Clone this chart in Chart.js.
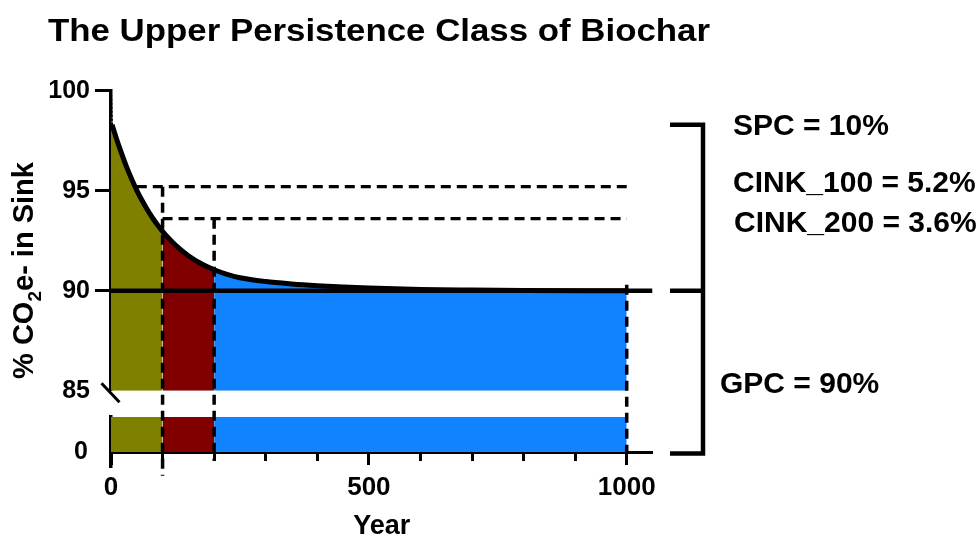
<!DOCTYPE html>
<html>
<head>
<meta charset="utf-8">
<script src="https://cdn.jsdelivr.net/npm/chart.js@4.4.1/dist/chart.umd.min.js"></script>
<style>
html,body{margin:0;padding:0;background:#fff;}
#wrap{position:relative;width:980px;height:539px;}
</style>
</head>
<body>
<div id="wrap"><canvas id="c"></canvas></div>
<script>
const FONT = '"Liberation Sans", Arial, Helvetica, sans-serif';

// ---- data ----
const titleText = 'The Upper Persistence Class of Biochar';
const initialDrop = [[0, 100], [2, 98.3]];
const curveYears  = [2, 10, 20, 30, 40, 50, 60, 70, 80, 90, 100, 110, 125, 150, 175, 200, 225, 250, 300, 350, 400, 450, 500, 600, 700, 800, 1000];
const curveValues = [98.3, 97.65, 96.9, 96.2, 95.58, 95.02, 94.52, 94.07, 93.66, 93.3, 92.97, 92.67, 92.28, 91.75, 91.35, 91.05, 90.82, 90.65, 90.46, 90.34, 90.25, 90.18, 90.13, 90.06, 90.03, 90.01, 90.0];
const phaseBounds = [0, 100, 200, 1000];
const phaseColors = ['#808000', '#800000', '#1183FF'];
const gpcLevel = 90;
const cinkYears = [100, 200];
const cinkLevels = [95.2, 93.6];
const cinkStartYears = [50, 100];
const horizonYear = 1000;
const dropLineEnds = [80.75, 81.5, 81.9];   // lower ends of the dashed drop lines (x=100, 200, 1000)
const horizonTop = 90.3;
const bottomBandTop = 7;
const xMax = 1050;
const xTicksMajor = [0, 500, 1000];
const yTicksTop = [85, 90, 95, 100];
const yTicksBottom = [0];
const sideLabels = ['SPC = 10%', 'CINK_100 = 5.2%', 'CINK_200 = 3.6%', 'GPC = 90%'];
const bracketLevels = [98.3, 90];   // top & middle of bracket on the upper axis
const bracketBottom = -0.3;          // bottom of bracket on the lower axis

// ---- datasets ----
const curvePts = curveYears.map((x, i) => ({x, y: curveValues[i]}));
const fillPts = [{x: 0, y: initialDrop[0][1] - 1.2}].concat(curvePts);
const datasets = [];

datasets.push({
  label: 'curve', data: curvePts, xAxisID: 'x', yAxisID: 'y',
  borderColor: '#000', borderWidth: 5, pointRadius: 0, fill: false,
  cubicInterpolationMode: 'monotone', order: 0
});
datasets.push({
  label: 'drop0', data: initialDrop.map(p => ({x: p[0], y: p[1]})), xAxisID: 'x', yAxisID: 'y',
  borderColor: '#000', borderWidth: 2, borderDash: [2, 2], pointRadius: 0, fill: false, order: 0
});
datasets.push({
  label: 'gpc', data: [{x: 0, y: gpcLevel}, {x: xMax, y: gpcLevel}], xAxisID: 'x', yAxisID: 'y',
  borderColor: '#000', borderWidth: 4.5, pointRadius: 0, fill: false, order: 1
});
// dashed horizontal lines
cinkLevels.forEach((lv, i) => {
  datasets.push({
    label: 'cinkH' + i, data: [{x: cinkStartYears[i], y: lv}, {x: horizonYear, y: lv}],
    xAxisID: 'x', yAxisID: 'y', borderColor: '#000', borderWidth: 3.2, borderDash: [10, 6],
    pointRadius: 0, fill: false, clip: false, order: 2
  });
});
// dashed vertical drop lines
const dropTops = [cinkLevels[0], cinkLevels[1], horizonTop];
const dropYears = [cinkYears[0], cinkYears[1], horizonYear];
dropYears.forEach((yr, i) => {
  datasets.push({
    label: 'drop' + i, data: [{x: yr, y: dropTops[i]}, {x: yr, y: dropLineEnds[i]}],
    xAxisID: 'x', yAxisID: 'y', borderColor: '#000', borderWidth: 3.5, borderDash: [10, 6],
    pointRadius: 0, fill: false, clip: false, order: 2
  });
});
// phase fills (upper and lower segment)
for (let i = 0; i < phaseColors.length; i++) {
  const a = phaseBounds[i], b = phaseBounds[i + 1];
  datasets.push({
    label: 'fillTop' + i, data: fillPts.filter(p => p.x >= a && p.x <= b),
    xAxisID: 'x', yAxisID: 'y', borderWidth: 0, borderColor: 'rgba(0,0,0,0)',
    backgroundColor: phaseColors[i], fill: 'start', pointRadius: 0,
    cubicInterpolationMode: 'monotone', order: 5
  });
  datasets.push({
    label: 'fillBot' + i, data: [{x: a, y: bottomBandTop}, {x: b, y: bottomBandTop}],
    xAxisID: 'x', yAxisID: 'yb', borderWidth: 0, borderColor: 'rgba(0,0,0,0)',
    backgroundColor: phaseColors[i], fill: 'origin', pointRadius: 0, order: 5
  });
}

const tickFont = {family: FONT, size: 25, weight: 'bold'};
const xTickFont = {family: FONT, size: 26, weight: 'bold'};

const annot = {
  id: 'annot',
  afterDraw(chart) {
    const ctx = chart.ctx;
    const y = chart.scales.y, yb = chart.scales.yb, x = chart.scales.x;
    ctx.save();
    ctx.fillStyle = '#000';
    ctx.strokeStyle = '#000';
    // title
    ctx.font = 'bold 32px ' + FONT;
    ctx.textAlign = 'left';
    ctx.textBaseline = 'alphabetic';
    const tw = ctx.measureText(titleText).width;
    ctx.save();
    ctx.translate(48, 41);
    ctx.scale(662 / tw, 1);
    ctx.fillText(titleText, 0, 0);
    ctx.restore();

    // y-axis title with subscript
    const f1 = 'bold 29px ' + FONT, f2 = 'bold 19px ' + FONT;
    const parts = [['% CO', f1, 0], ['2', f2, 8], ['e- in Sink', f1, 0]];
    let total = 0;
    parts.forEach(p => { ctx.font = p[1]; p.push(ctx.measureText(p[0]).width); total += p[3]; });
    ctx.save();
    ctx.translate(33, 270.5);
    ctx.rotate(-Math.PI / 2);
    let cx = -total / 2;
    parts.forEach(p => { ctx.font = p[1]; ctx.fillText(p[0], cx, p[2]); cx += p[3]; });
    ctx.restore();

    // axis break slash
    const p85 = y.getPixelForValue(85);
    ctx.lineWidth = 3;
    ctx.beginPath();
    ctx.moveTo(x.left - 9.5, p85 - 7.5);
    ctx.lineTo(x.left + 8.5, p85 + 11.5);
    ctx.stroke();

    // brackets
    const bt = y.getPixelForValue(bracketLevels[0]);
    const bm = y.getPixelForValue(bracketLevels[1]);
    const bb = yb.getPixelForValue(bracketBottom);
    const bl = x.right + 17.5, br = x.right + 50.5;
    ctx.lineWidth = 4.5;
    ctx.lineJoin = 'miter';
    ctx.beginPath();
    ctx.moveTo(bl, bt); ctx.lineTo(br, bt); ctx.lineTo(br, bb); ctx.lineTo(bl, bb);
    ctx.stroke();
    ctx.beginPath();
    ctx.moveTo(bl, bm); ctx.lineTo(br + 2, bm);
    ctx.stroke();

    // side labels
    ctx.font = 'bold 30px ' + FONT;
    ctx.textAlign = 'left';
    ctx.fillText(sideLabels[0], 733, 135);
    ctx.fillText(sideLabels[1], 733, 192);
    ctx.fillText(sideLabels[2], 734, 232);
    ctx.fillText(sideLabels[3], 720, 393);
    ctx.restore();
  }
};

new Chart(document.getElementById('c'), {
  type: 'line',
  data: {datasets},
  plugins: [annot],
  options: {
    animation: false,
    responsive: true,
    maintainAspectRatio: false,
    events: [],
    layout: {padding: {left: 0, right: 327.5, top: 90.7, bottom: 72}},
    plugins: {legend: {display: false}, tooltip: {enabled: false}, title: {display: false}},
    scales: {
      x: {
        type: 'linear', axis: 'x', position: {yb: 0}, min: 0, max: xMax,
        ticks: {stepSize: 100, includeBounds: false, display: false, autoSkip: false},
        grid: {drawOnChartArea: false, tickLength: 7, tickWidth: 3, tickColor: '#000'},
        border: {color: '#000', width: 3}
      },
      x2: {
        type: 'linear', axis: 'x', position: {yb: 0}, min: 0, max: xMax,
        afterBuildTicks: s => { s.ticks = xTicksMajor.map(v => ({value: v})); },
        ticks: {font: xTickFont, color: '#000', padding: 7, maxRotation: 0, autoSkip: false,
                callback: v => String(v)},
        grid: {drawOnChartArea: false, tickLength: 13, tickWidth: 3, tickColor: '#000'},
        border: {display: false},
        title: {display: true, text: 'Year', color: '#000', font: {family: FONT, size: 27, weight: 'bold'}, padding: {top: 0, bottom: 0}}
      },
      y: {
        type: 'linear', axis: 'y', position: 'left', stack: 'ys', stackWeight: 300, weight: 3,
        min: 85, max: 100,
        afterBuildTicks: s => { s.ticks = yTicksTop.map(v => ({value: v})); },
        afterFit: s => { s.width = 111; },
        ticks: {font: tickFont, color: '#000', padding: 5, callback: v => String(v)},
        grid: {drawOnChartArea: false, tickLength: 16, tickWidth: 3,
               tickColor: c => (c.tick && c.tick.value === 85) ? 'rgba(0,0,0,0)' : '#000'},
        border: {color: '#000', width: 3.5}
      },
      yg: {
        type: 'linear', axis: 'y', position: 'left', stack: 'ys', stackWeight: 26.3, weight: 2,
        min: 0, max: 1,
        afterFit: s => { s.width = 111; },
        ticks: {display: false},
        grid: {display: false},
        border: {display: false}
      },
      yb: {
        type: 'linear', axis: 'y', position: 'left', stack: 'ys', stackWeight: 50, weight: 1,
        min: -3, max: 7,
        afterBuildTicks: s => { s.ticks = yTicksBottom.map(v => ({value: v})); },
        afterFit: s => { s.width = 111; },
        ticks: {font: tickFont, color: '#000', padding: 7, callback: v => String(v)},
        grid: {drawOnChartArea: false, tickLength: 16, tickColor: 'rgba(0,0,0,0)'},
        border: {color: '#000', width: 3.5}
      }
    }
  }
});
</script>
</body>
</html>
